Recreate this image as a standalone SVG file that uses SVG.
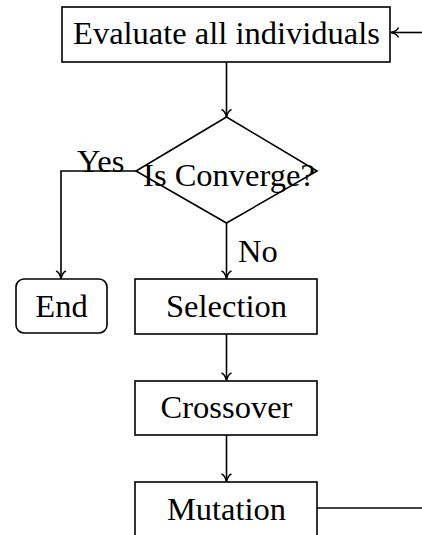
<svg xmlns="http://www.w3.org/2000/svg" width="422" height="535" viewBox="0 0 422 535">
<style>
.box{fill:#fff;stroke:#000;stroke-width:1.6}
.t{font-family:"Liberation Serif","Times New Roman",serif;font-size:32.5px;fill:#000}
.c{text-anchor:middle}
.ln{fill:none;stroke:#000;stroke-width:1.6}
.arr{marker-end:url(#to)}
</style>
<defs>
<marker id="to" markerUnits="userSpaceOnUse" viewBox="-9 -6 10 12" refX="0" refY="0" markerWidth="10" markerHeight="12" orient="auto" overflow="visible">
<path d="M-7.5,-5 C-6.5,-2.2 -2,-0.5 0,0 C-2,0.5 -6.5,2.2 -7.5,5" fill="none" stroke="#000" stroke-width="1.5"/>
</marker>
</defs>
<rect width="422" height="535" fill="#fff"/>
<g id="connectors">
<path class="ln arr" d="M226.5,62 V117"/>
<path class="ln arr" d="M136,171 H61 V278.5"/>
<path class="ln arr" d="M226.5,223 V278.5"/>
<path class="ln arr" d="M226.5,334 V380.5"/>
<path class="ln arr" d="M226.5,435 V481.5"/>
<path class="ln" d="M317,508 H422"/>
<path class="ln arr" d="M422,32.5 H391"/>
</g>
<g id="evaluate">
<rect class="box" x="62" y="7" width="328" height="55"/>
<text class="t c" x="226.5" y="44.3">Evaluate all individuals</text>
</g>
<g id="converge">
<path class="box" d="M226.5,117 L317,171 L226.5,223 L136,171 Z"/>
<text class="t c" x="229" y="186">Is Converge?</text>
</g>
<g id="yes-label">
<text class="t" x="77" y="171.7">Yes</text>
</g>
<g id="no-label">
<text class="t" x="238" y="261.7">No</text>
</g>
<g id="end">
<rect class="box" x="16" y="279" width="91" height="54" rx="8" ry="8"/>
<text class="t c" x="61.5" y="317.3">End</text>
</g>
<g id="selection">
<rect class="box" x="135" y="279" width="182" height="55"/>
<text class="t c" x="226.5" y="317.3">Selection</text>
</g>
<g id="crossover">
<rect class="box" x="135" y="381" width="182" height="54"/>
<text class="t c" x="226.5" y="418.3">Crossover</text>
</g>
<g id="mutation">
<rect class="box" x="135" y="482" width="182" height="55"/>
<text class="t c" x="226.5" y="520">Mutation</text>
</g>
</svg>
